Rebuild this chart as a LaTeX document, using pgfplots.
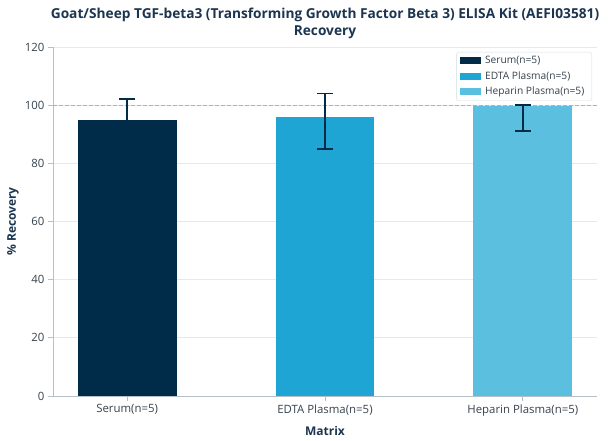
\documentclass[border=0pt]{standalone}
\usepackage{pgfplots}
\pgfplotsset{compat=1.18}
\usepackage{fontspec}
\setmainfont{Open Sans}
\definecolor{navy}{HTML}{002B49}
\definecolor{edta}{HTML}{1FA5D3}
\definecolor{hep}{HTML}{5BBFE0}
\definecolor{titlec}{HTML}{1B3550}
\definecolor{tickc}{HTML}{36424D}
\definecolor{axc}{HTML}{B4C0C8}
\definecolor{gridc}{HTML}{E2EAEE}
\definecolor{refc}{HTML}{7CC2DA}
\begin{document}
\begin{tikzpicture}[x=1pt,y=1pt]
\begin{axis}[
  at={(53pt,45pt)}, anchor=south west,
  scale only axis, width=544pt, height=349pt,
  xmin=-0.375, xmax=2.375, ymin=0, ymax=120,
  xtick={0,1,2}, xticklabels={Serum(n=5),EDTA Plasma(n=5),Heparin Plasma(n=5)},
  ytick={0,20,40,60,80,100,120},
  axis x line*=bottom, axis y line*=left,
  axis line style={draw=axc, line width=0.8pt, -},
  tick align=outside, major tick length=5pt,
  tick style={draw=axc, line width=0.8pt},
  ymajorgrids, grid style={draw=gridc, line width=0.8pt},
  ticklabel style={font=\fontsize{11.4}{13}\selectfont, text=tickc},
  /pgf/number format/assume math mode=true,
  xlabel={Matrix}, ylabel={\% Recovery},
  label style={font=\bfseries\fontsize{12}{14}\selectfont, text=titlec},
  xlabel style={at={(axis description cs:0.5,0)}, anchor=base, yshift=-40pt},
  ylabel style={at={(axis description cs:-0.0735,0.5)}, anchor=center, rotate=0},
  legend style={at={(1,1)}, anchor=north east, xshift=-5pt, yshift=-5pt,
    draw=gridc!70!axc, rounded corners=1.5pt, font=\fontsize{10.2}{12}\selectfont, text=tickc,
    row sep=2.3pt, inner xsep=3pt, inner ysep=2.3pt,
    nodes={inner xsep=4.5pt}},
  legend cell align=left,
  legend image code/.code={\fill[#1, sharp corners] (0pt,-3.5pt) rectangle (21pt,3.5pt);},
  error bars/error bar style={draw=navy, line width=1.8pt},
  error bars/error mark options={rotate=90, mark size=8pt, line width=1.8pt, draw=navy},
]
\addplot[forget plot, sharp plot, draw=refc, line width=0.8pt, dash pattern=on 4pt off 2pt, no marks]
  coordinates {(-0.375,100) (2.375,100)};
\addplot[ybar, bar width=0.5, bar shift=0pt, fill=navy, draw=none,
  error bars/.cd, y dir=both, y explicit]
  coordinates {(0,95) +- (0,7)};
\addlegendentry{Serum(n=5)}
\addplot[ybar, bar width=0.5, bar shift=0pt, fill=edta, draw=none,
  error bars/.cd, y dir=both, y explicit]
  coordinates {(1,96) += (0,8) -= (0,11)};
\addlegendentry{EDTA Plasma(n=5)}
\addplot[ybar, bar width=0.5, bar shift=0pt, fill=hep, draw=none,
  error bars/.cd, y dir=both, y explicit]
  coordinates {(2,99.8) += (0,0.2) -= (0,8.8)};
\addlegendentry{Heparin Plasma(n=5)}
\end{axis}
\node[anchor=base, font=\bfseries\fontsize{13.7}{15}\selectfont, text=titlec] at (325pt,422pt) {Goat/Sheep TGF-beta3 (Transforming Growth Factor Beta 3) ELISA Kit (AEFI03581)};
\node[anchor=base, font=\bfseries\fontsize{13.7}{15}\selectfont, text=titlec] at (325pt,405pt) {Recovery};
\pgfresetboundingbox
\useasboundingbox (0,0) rectangle (608pt,441pt);
\end{tikzpicture}
\end{document}
